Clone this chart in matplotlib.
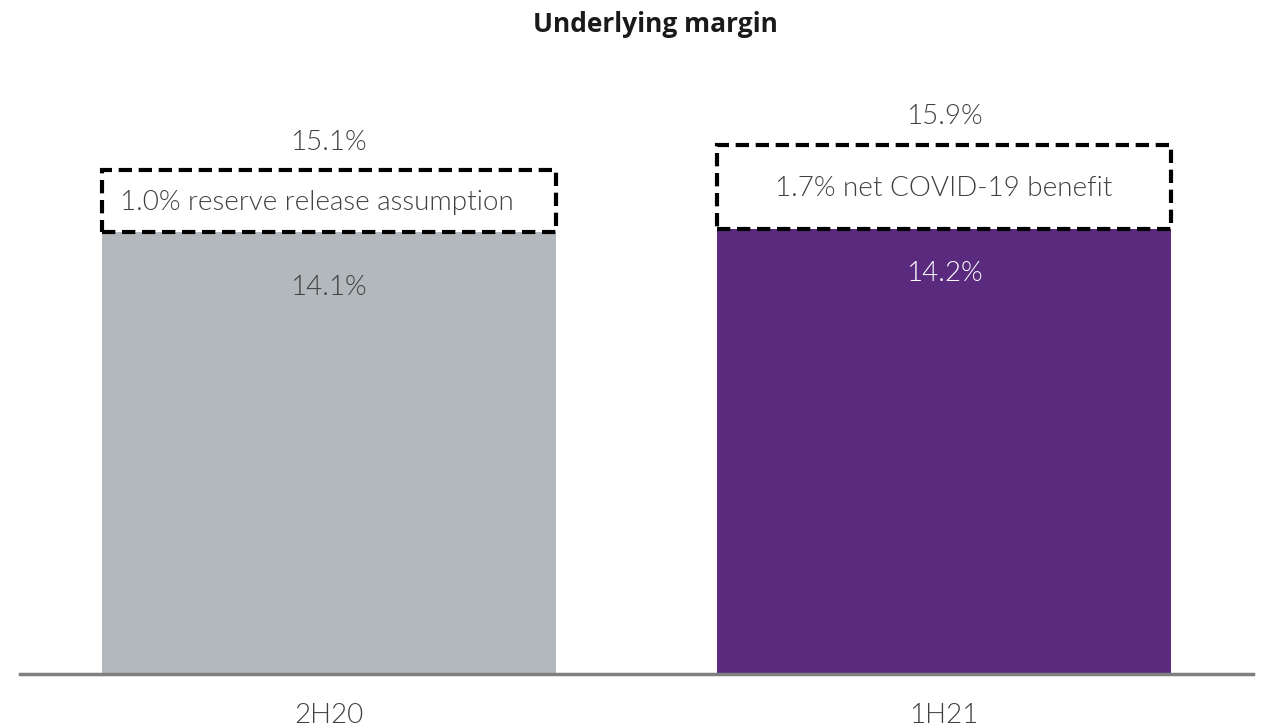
import matplotlib
matplotlib.use("Agg")
import matplotlib.pyplot as plt

# ---- data ----
categories = ["2H20", "1H21"]
underlying = [14.1, 14.2]
adjustment = [1.0, 1.7]
totals = [15.1, 15.9]
box_labels = ["1.0% reserve release assumption", "1.7% net COVID-19 benefit"]
title = "Underlying margin"

# ---- style ----
bar_colors = ["#b2b8bb", "#5a2a7e"]
inner_text_colors = ["#404040", "#ffffff"]
text_color = "#404040"
box_heights = [1.98, 2.68]      # visual height of dashed callout boxes (not to scale in original)
inner_offsets = [-55, -45]      # px below bar top for inner value labels
box_text_x = [-0.02, 0.0]       # x shift of box text (data units)
FONT = "Lato"
FS = 20
WEIGHT = 300

fig = plt.figure(figsize=(12.61, 7.28), dpi=100)
W, H = 1261, 728
ax = fig.add_axes([20 / W, (H - 674) / H, (1253 - 20) / W, (674 - 60) / H])

x = list(range(len(categories)))
ax.set_xlim(-0.502, 1.502)
ax.set_ylim(0, 19.59)
width = 0.738

ax.bar(x, underlying, width=width, color=bar_colors, zorder=2)
ax.bar(x, box_heights, bottom=underlying, width=width, facecolor="white",
       edgecolor="black", linestyle=(0, (3.2, 1.6)), linewidth=3, zorder=3)

for i in x:
    top_box = underlying[i] + box_heights[i]
    ax.annotate(f"{totals[i]:.1f}%", xy=(i, top_box), xytext=(0, 28),
                textcoords="offset pixels", ha="center", va="center",
                fontsize=FS, color=text_color, family=FONT, fontweight=WEIGHT)
    ax.annotate(f"{underlying[i]:.1f}%", xy=(i, underlying[i]), xytext=(0, inner_offsets[i]),
                textcoords="offset pixels", ha="center", va="center",
                fontsize=FS, color=inner_text_colors[i], family=FONT, fontweight=WEIGHT)
    ax.text(i + box_text_x[i], underlying[i] + box_heights[i] / 2 - 0.05, box_labels[i],
            ha="center", va="center", fontsize=FS, color=text_color,
            family=FONT, fontweight=WEIGHT, zorder=4)

for s in ["top", "right", "left"]:
    ax.spines[s].set_visible(False)
ax.spines["bottom"].set_color("#7f7f7f")
ax.spines["bottom"].set_linewidth(2.5)
ax.set_yticks([])
ax.set_xticks(x)
ax.set_xticklabels(categories, fontsize=FS, color=text_color, family=FONT, fontweight=WEIGHT)
ax.tick_params(axis="x", length=0, pad=21)

fig.text(655 / W, 1 - 24 / H, title, ha="center", va="center", fontsize=19,
         fontweight="bold", color="#1a1a1a", family="Open Sans")

fig.savefig("out.png", dpi=100)
